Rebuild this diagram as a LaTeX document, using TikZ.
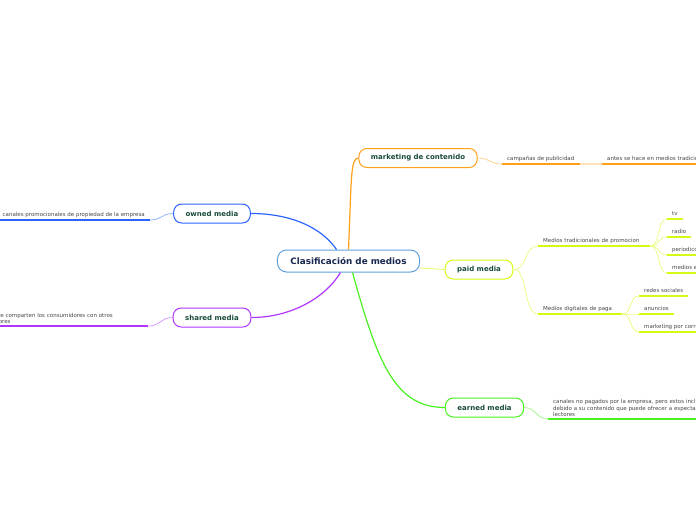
\documentclass[tikz,border=0pt]{standalone}
\usepackage{fontspec}
\setmainfont{DejaVu Sans}
\usetikzlibrary{positioning}
\definecolor{ownedblue}{RGB}{45,100,255}
\definecolor{sharedpurple}{RGB}{175,55,255}
\definecolor{contentorange}{RGB}{255,160,25}
\definecolor{paidlime}{RGB}{215,250,20}
\definecolor{earnedgreen}{RGB}{75,240,35}
\definecolor{rootblue}{RGB}{95,160,220}
\definecolor{roottext}{RGB}{25,40,80}
\definecolor{topictext}{RGB}{25,75,60}
\definecolor{leaftext}{RGB}{70,70,70}

\begin{document}
\begin{tikzpicture}[x=1pt,y=-1pt, every node/.style={inner sep=0pt},
 root/.style={draw=rootblue,line width=1pt,fill=white,rounded corners=9pt,minimum height=22pt,inner xsep=13pt,font=\fontsize{8.8}{10}\selectfont\bfseries,text=roottext},
 topic/.style={draw=#1,line width=1pt,fill=white,rounded corners=8pt,minimum height=19pt,inner xsep=12pt,font=\fontsize{7}{8}\selectfont\bfseries,text=topictext},
 leafbase/.style={inner xsep=5pt,inner ysep=2pt,font=\fontsize{5.5}{6.6}\selectfont,text=leaftext},
 leaf/.style={leafbase,anchor=south west,text height=4pt,text depth=1.2pt},
 longleaf/.style={leafbase,align=left,text width=#1},
 branch/.style={#1,line width=1.2pt},
 twig/.style={#1!55,line width=0.7pt},
 uline/.style={#1,line width=1.8pt}]
\useasboundingbox (0,0) rectangle (696,520);
\clip (0,0) rectangle (696,520);
% main topics
\node[root] (root) at (348.5,261) {Clasificación de medios};
\node[topic=ownedblue] (owned) at (212,213.5) {owned media};
\node[topic=sharedpurple] (shared) at (212,317.5) {shared media};
\node[topic=contentorange] (content) at (418,158) {marketing de contenido};
\node[topic=paidlime] (paid) at (479,269.5) {paid media};
\node[topic=earnedgreen] (earned) at (484.5,407.5) {earned media};
% subtopics
\node[leaf,anchor=south east] (ownedlf) at (150,220) {canales promocionales de propiedad de la empresa};
\node[longleaf=171pt,anchor=south west] (sharedlf) at (-33,326) {Medios que comparten los consumidores con otros\\consumidores};
\node[leaf] (campaign) at (502,164) {campañas de publicidad};
\node[leaf] (before) at (602,164) {antes se hace en medios tradicionales};
\node[leaf,text width=102pt] (tradmedia) at (538,246) {Medios tradicionales de promocion};
\node[leaf,text width=74pt] (digital) at (538,314) {Medios digitales de paga};
\node[leaf] (tv) at (667,219) {tv};
\node[leaf] (radio) at (667,237) {radio};
\node[leaf] (papers) at (667,255) {periodicos};
\node[leaf] (outdoor) at (667,273) {medios exteriores};
\node[leaf] (social) at (639,296) {redes sociales};
\node[leaf] (ads) at (639,314) {anuncios};
\node[leaf] (mailing) at (639,332) {marketing por correo electrónico};
\node[longleaf=260pt,anchor=south west] (earnedlf) at (548,419) {canales no pagados por la empresa, pero estos incluyen a la marca\\debido a su contenido que puede ofrecer a espectadores y\\lectores};
% branches
\draw[branch=ownedblue] ([xshift=-12pt]root.north) .. controls +(-15,-22) and +(40,0) .. (owned.east);
\draw[branch=contentorange] (root.north) .. controls +(3,-70) and +(-8,0) .. (content.west);
\draw[branch=sharedpurple] ([xshift=-8pt]root.south) .. controls +(-15,25) and +(40,0) .. (shared.east);
\draw[branch=earnedgreen] ([xshift=4pt]root.south) .. controls +(25,90) and +(-50,0) .. (earned.west);
\draw[paidlime!70,line width=0.8pt] ([yshift=-7pt]root.east) .. controls +(12,0) and +(-12,0) .. (paid.west);
% twigs
\draw[twig=ownedblue] (owned.west) .. controls +(-12,0) and +(12,0) .. (ownedlf.south east);
\draw[twig=sharedpurple] (shared.west) .. controls +(-12,0) and +(12,0) .. (sharedlf.south east);
\draw[twig=contentorange] (content.east) .. controls +(13,0) and +(-13,0) .. (campaign.south west);
\draw[contentorange!30,line width=1.8pt] (campaign.south east) -- (before.south west);
\draw[twig=paidlime] (paid.east) .. controls +(15,0) and +(-15,0) .. (tradmedia.south west);
\draw[twig=paidlime] (paid.east) .. controls +(15,0) and +(-15,0) .. (digital.south west);
\foreach \n in {tv,radio,papers,outdoor} \draw[twig=paidlime] (tradmedia.south east) .. controls +(10,0) and +(-10,0) .. (\n.south west);
\foreach \n in {social,ads,mailing} \draw[twig=paidlime] (digital.south east) .. controls +(10,0) and +(-10,0) .. (\n.south west);
\draw[twig=earnedgreen] (earned.east) .. controls +(12,0) and +(-12,0) .. (earnedlf.south west);
% underlines
\foreach \n/\c in {ownedlf/ownedblue,sharedlf/sharedpurple,campaign/contentorange,before/contentorange,tradmedia/paidlime,digital/paidlime,tv/paidlime,radio/paidlime,papers/paidlime,outdoor/paidlime,social/paidlime,ads/paidlime,mailing/paidlime,earnedlf/earnedgreen}
  \draw[uline=\c] (\n.south west) -- (\n.south east);
\end{tikzpicture}
\end{document}
